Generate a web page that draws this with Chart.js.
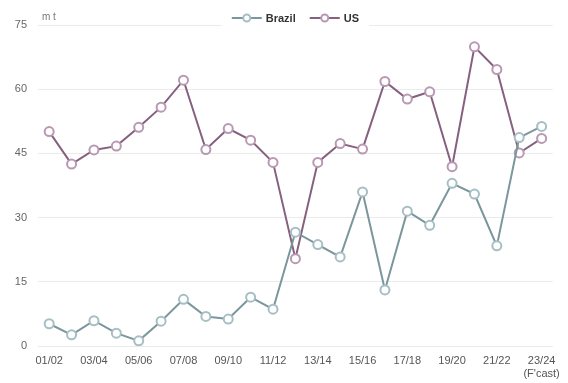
<!DOCTYPE html>
<html>
<head>
<meta charset="utf-8">
<script src="https://cdn.jsdelivr.net/npm/chart.js@4.4.1/dist/chart.umd.min.js"></script>
<style>
	html, body { margin: 0; padding: 0; background: #fff; }
	#wrap { width: 568px; height: 383px; }
</style>
</head>
<body>
<div id="wrap"><canvas id="myChart" width="568" height="383"></canvas></div>
<script>
// marketing years, last one is a forecast
const seasons = ["01/02", "02/03", "03/04", "04/05", "05/06", "06/07", "07/08", "08/09",
	"09/10", "10/11", "11/12", "12/13", "13/14", "14/15", "15/16", "16/17", "17/18",
	"18/19", "19/20", "20/21", "21/22", "22/23", ["23/24", "(F'cast)"]];

// exports, million tonnes
const brazil = [5.2, 2.6, 5.9, 3.0, 1.2, 5.8, 10.9, 6.9, 6.3, 11.4, 8.6, 26.6, 23.7,
	20.8, 36.0, 13.1, 31.5, 28.2, 38.0, 35.5, 23.4, 48.7, 51.3];
const us = [50.1, 42.5, 45.8, 46.7, 51.1, 55.8, 62.1, 45.9, 50.8, 48.1, 42.9, 20.4,
	42.9, 47.3, 46.0, 61.8, 57.7, 59.4, 41.9, 69.9, 64.6, 45.1, 48.5];

const yTicks = [0, 15, 30, 45, 60, 75];

const colors = {
	brazil: { line: "#7b969c", point: "#a6bfc4" },
	us: { line: "#86607e", point: "#b998b3" },
};

// legend drawn by hand: line + marker, bold name, sitting on top of the 75 gridline
const lineLegend = {
	id: "lineLegend",
	afterDraw(chart) {
		const ctx = chart.ctx;
		const area = chart.chartArea;
		const items = chart.data.datasets;
		ctx.save();
		ctx.font = "bold 11px 'Liberation Sans', Arial, sans-serif";
		const lineW = 30, gap = 4, spacing = 14;
		let total = 0;
		items.forEach((ds, i) => {
			total += lineW + gap + ctx.measureText(ds.label).width;
			if (i < items.length - 1) total += spacing;
		});
		let x = (area.left + area.right) / 2 - total / 2;
		const y = 18;
		ctx.fillStyle = "#fff";
		ctx.fillRect(x - 10, y - 8, total + 20, 17);
		items.forEach((ds) => {
			ctx.strokeStyle = ds.borderColor;
			ctx.lineWidth = 2;
			ctx.beginPath();
			ctx.moveTo(x, y);
			ctx.lineTo(x + lineW, y);
			ctx.stroke();
			ctx.beginPath();
			ctx.arc(x + lineW / 2, y, 3.5, 0, Math.PI * 2);
			ctx.fillStyle = "#fff";
			ctx.fill();
			ctx.strokeStyle = ds.pointBorderColor;
			ctx.stroke();
			ctx.fillStyle = "#333";
			ctx.textBaseline = "middle";
			ctx.textAlign = "left";
			ctx.fillText(ds.label, x + lineW + gap, y + 1);
			x += lineW + gap + ctx.measureText(ds.label).width + spacing;
		});
		// unit label above the axis
		ctx.font = "10px 'Liberation Sans', Arial, sans-serif";
		ctx.fillStyle = "#777";
		ctx.fillText("m t", area.left + 4, 17);
		ctx.restore();
	},
};

function makeSeries(label, data, c) {
	return {
		label: label,
		data: data,
		borderColor: c.line,
		borderWidth: 2,
		pointRadius: 4.5,
		pointBorderWidth: 2,
		pointBackgroundColor: "#fff",
		pointBorderColor: c.point,
		tension: 0,
	};
}

document.addEventListener("DOMContentLoaded", () => {
	new Chart(document.getElementById("myChart"), {
		type: "line",
		data: {
			labels: seasons,
			datasets: [
				makeSeries("Brazil", brazil, colors.brazil),
				makeSeries("US", us, colors.us),
			],
		},
		options: {
			responsive: false,
			animation: false,
			layout: { padding: { top: 25, right: 11, left: 0, bottom: 0 } },
			plugins: {
				legend: { display: false },
				tooltip: { enabled: false },
			},
			scales: {
				x: {
					offset: true,
					grid: { display: false, drawTicks: false },
					border: { display: false },
					ticks: {
						autoSkip: false,
						maxRotation: 0,
						padding: 8,
						color: "#555",
						font: { family: "'Liberation Sans', Arial, sans-serif", size: 11 },
						callback: function (value, index) {
							return index % 2 === 0 ? this.getLabelForValue(value) : "";
						},
					},
					afterFit(scale) {
						scale.height = 37;
					},
				},
				y: {
					min: 0,
					max: 75,
					afterBuildTicks(scale) {
						scale.ticks = yTicks.map((v) => ({ value: v }));
					},
					grid: { color: "#ebebeb", drawTicks: false, lineWidth: 1 },
					border: { display: false },
					ticks: {
						padding: 11,
						color: "#666",
						font: { family: "'Liberation Sans', Arial, sans-serif", size: 11 },
					},
					afterFit(scale) {
						scale.width = 38;
					},
				},
			},
		},
		plugins: [lineLegend],
	});
});
</script>
</body>
</html>
